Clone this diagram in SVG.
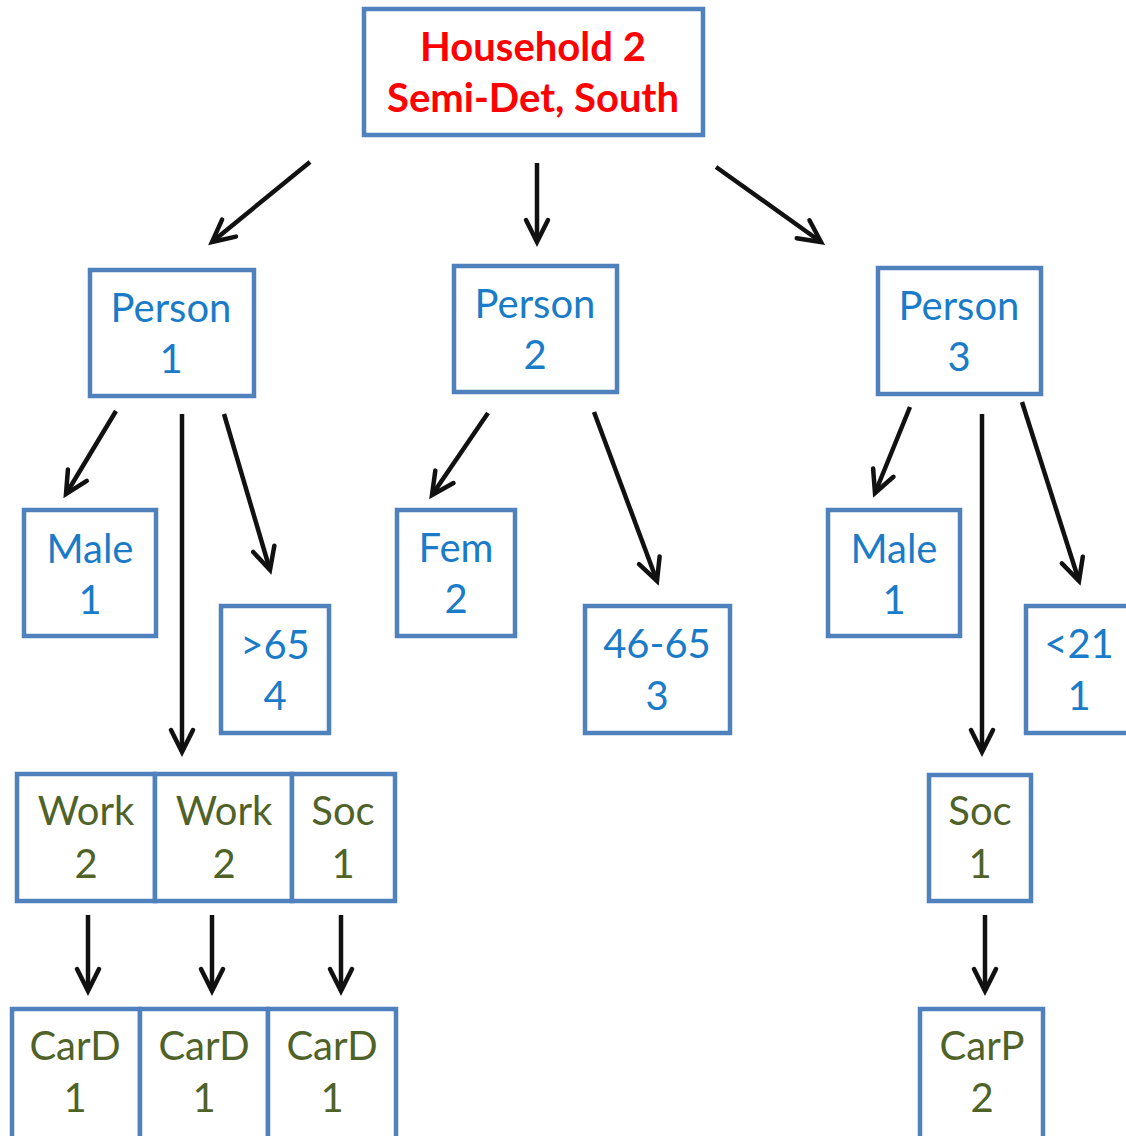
<svg xmlns="http://www.w3.org/2000/svg" width="1126" height="1136" viewBox="0 0 1126 1136">
<defs>
<marker id="ah" markerUnits="userSpaceOnUse" markerWidth="40" markerHeight="40" viewBox="-30 -20 40 40" refX="0" refY="0" orient="auto">
<path d="M-22,-11 L0,0 L-22,11" fill="none" stroke="#111" stroke-width="4.5" stroke-linecap="round" stroke-linejoin="miter"/>
</marker>
</defs>
<style>
rect{fill:#fff;stroke:#4F81BD;stroke-width:4.5}
text{font-family:Lato,"Open Sans","Liberation Sans",sans-serif;font-size:40px;text-anchor:middle}
.hh{fill:#FF0000;font-weight:bold}
.bl{fill:#1A7BC8}
.gr{fill:#4F6228}
#connectors line{stroke:#111;stroke-width:4.5;marker-end:url(#ah)}
</style>
<g id="connectors">
<line x1="310" y1="162" x2="212" y2="242"/>
<line x1="537" y1="163" x2="537" y2="242"/>
<line x1="716" y1="167" x2="821" y2="242"/>
<line x1="116" y1="411" x2="66" y2="494"/>
<line x1="182" y1="414" x2="182" y2="752"/>
<line x1="224" y1="414" x2="270" y2="570"/>
<line x1="488" y1="413" x2="432" y2="495"/>
<line x1="594" y1="412" x2="657" y2="581"/>
<line x1="910" y1="407" x2="875" y2="493"/>
<line x1="982" y1="414" x2="982" y2="752"/>
<line x1="1022" y1="402" x2="1079" y2="581"/>
<line x1="88" y1="915" x2="88" y2="991"/>
<line x1="212" y1="915" x2="212" y2="991"/>
<line x1="341" y1="915" x2="341" y2="991"/>
<line x1="985" y1="915" x2="985" y2="991"/>
</g>
<g id="household"><rect x="364" y="9" width="339" height="126"/><text class="hh" x="533" y="61">Household 2</text><text class="hh" x="533" y="112">Semi-Det, South</text></g>
<g id="person1"><rect x="90" y="270" width="164" height="126"/><text class="bl" x="171" y="322">Person</text><text class="bl" x="171" y="373">1</text></g>
<g id="person2"><rect x="454" y="266" width="163" height="126"/><text class="bl" x="535" y="318">Person</text><text class="bl" x="535" y="369">2</text></g>
<g id="person3"><rect x="878" y="268" width="163" height="126"/><text class="bl" x="959" y="320">Person</text><text class="bl" x="959" y="371">3</text></g>
<g id="male1"><rect x="24" y="510" width="132" height="126"/><text class="bl" x="90" y="563">Male</text><text class="bl" x="90" y="614">1</text></g>
<g id="age1"><rect x="221" y="606" width="108" height="127"/><text class="bl" x="275" y="659">&gt;65</text><text class="bl" x="275" y="710">4</text></g>
<g id="fem2"><rect x="397" y="510" width="118" height="126"/><text class="bl" x="456" y="562">Fem</text><text class="bl" x="456" y="613">2</text></g>
<g id="age2"><rect x="585" y="606" width="145" height="127"/><text class="bl" x="657" y="658">46-65</text><text class="bl" x="657" y="710">3</text></g>
<g id="male3"><rect x="828" y="510" width="132" height="126"/><text class="bl" x="894" y="563">Male</text><text class="bl" x="894" y="614">1</text></g>
<g id="age3"><rect x="1026" y="606" width="110" height="127"/><text class="bl" x="1079" y="658">&lt;21</text><text class="bl" x="1079" y="710">1</text></g>
<g id="work1"><rect x="17" y="774" width="138" height="127"/><text class="gr" x="86" y="825">Work</text><text class="gr" x="86" y="878">2</text></g>
<g id="work2"><rect x="155" y="774" width="137" height="127"/><text class="gr" x="224" y="825">Work</text><text class="gr" x="224" y="878">2</text></g>
<g id="soc1"><rect x="292" y="774" width="103" height="127"/><text class="gr" x="343" y="825">Soc</text><text class="gr" x="343" y="878">1</text></g>
<g id="soc3"><rect x="929" y="775" width="102" height="126"/><text class="gr" x="980" y="825">Soc</text><text class="gr" x="980" y="878">1</text></g>
<g id="card1"><rect x="12" y="1009" width="128" height="132"/><text class="gr" x="75" y="1060">CarD</text><text class="gr" x="75" y="1112">1</text></g>
<g id="card2"><rect x="140" y="1009" width="128" height="132"/><text class="gr" x="204" y="1060">CarD</text><text class="gr" x="204" y="1112">1</text></g>
<g id="card3"><rect x="268" y="1009" width="128" height="132"/><text class="gr" x="332" y="1060">CarD</text><text class="gr" x="332" y="1112">1</text></g>
<g id="carp"><rect x="920" y="1009" width="123" height="132"/><text class="gr" x="982" y="1060">CarP</text><text class="gr" x="982" y="1112">2</text></g>
</svg>
